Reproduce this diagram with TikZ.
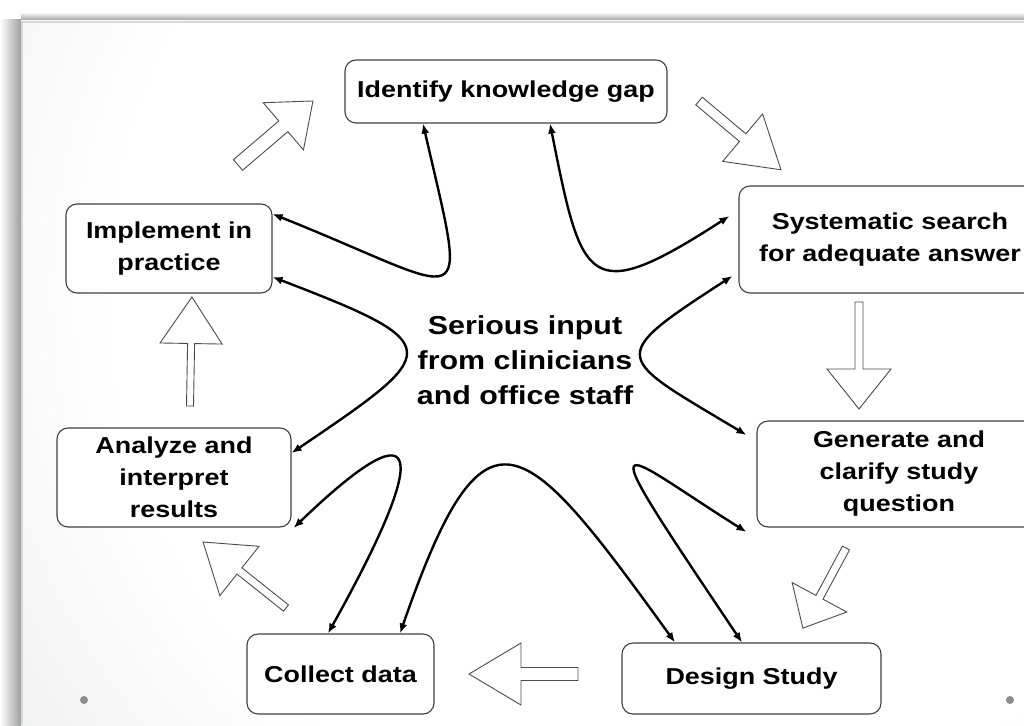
\documentclass[tikz,border=0pt]{standalone}
\usepackage{fontspec}
\setmainfont{Liberation Sans}
\newfontfamily\slidefont{Liberation Sans}[FakeStretch=1.17]
\usetikzlibrary{arrows.meta}
\pgfdeclareradialshading{slideshade}{\pgfpoint{0bp}{0bp}}{color(0bp)=(white); color(17bp)=(white); color(38bp)=(black!15); color(50bp)=(black!20)}

\newcommand{\blockarrow}[6]{%
  \begin{scope}[shift={(#1)}, rotate=#2]
    \draw[hollow] (0,-#4) -- (#3-#6,-#4) -- (#3-#6,-#5) -- (#3,0) -- (#3-#6,#5) -- (#3-#6,#4) -- (0,#4) -- cycle;
  \end{scope}}

\begin{document}
\begin{tikzpicture}[x=1pt, y=-1pt, >={Latex[length=10pt,width=8pt]},
  box/.style={draw=black!75, line width=1.1pt, fill=white, rounded corners=11pt, align=center, inner sep=0pt,
    font=\slidefont\bfseries\fontsize{23}{32}\selectfont},
  link/.style={<->, line width=2.4pt},
  hollow/.style={draw=black!70, fill=white, line width=0.9pt, line join=miter}]
\useasboundingbox (0,0) rectangle (1024,725);
\fill[white] (0,0) rectangle (1024,725);
\shade[left color=white, right color=black!38] (0,20) rectangle (21,725);
\shade[top color=white, bottom color=black!40] (21,12) rectangle (1024,21);
\begin{scope}
\clip (21,21) rectangle (1024,725);
\shade[shading=slideshade] (660,290) circle (800);
\end{scope}
\draw[cyan!25!black!20, line width=2pt] (22,725) -- (22,22) -- (1024,22);
\fill[black!45] (84,700) circle (4);
\fill[black!45] (1010,700) circle (4);

\node[box, minimum width=322pt, minimum height=63pt] (ident) at (506,91.5) {Identify knowledge gap};
\node[box, minimum width=302pt, minimum height=107pt] (search) at (890,239.5) {Systematic search\\for adequate answer};
\node[box, minimum width=284pt, minimum height=106pt] (gen) at (899,474) {Generate and\\clarify study\\question};
\node[box, minimum width=259pt, minimum height=71pt] (design) at (751.5,678.5) {Design Study};
\node[box, minimum width=187pt, minimum height=80pt] (collect) at (340.5,674) {Collect data};
\node[box, minimum width=234pt, minimum height=99pt] (analyze) at (174,477.5) {Analyze and\\interpret\\results};
\node[box, minimum width=206pt, minimum height=89pt] (impl) at (169,248.5) {Implement in\\practice};
\node[align=center, font=\slidefont\bfseries\fontsize{26}{35}\selectfont] (core) at (525,360) {Serious input\\from clinicians\\and office staff};

\blockarrow{238,165}{40.5}{98.6}{7}{31}{39}
\blockarrow{699,101}{-40}{107}{5}{31}{50}
\blockarrow{859,302}{-90}{107}{4}{32}{40}
\blockarrow{846,548}{-118.3}{91}{4}{31}{35}
\blockarrow{578,674}{180}{109}{6.5}{31}{52}
\blockarrow{286,608}{141.5}{106}{4}{31.5}{46.5}
\blockarrow{190,406}{89}{109}{3.5}{31}{46.5}

\draw[link] ([yshift=34.5pt]impl.east) .. controls (473,294) and (469,324) .. ([xshift=-83pt]ident.south);
\draw[link] ([xshift=44pt]ident.south) .. controls (582,284) and (587,308) .. ([xshift=-9pt,yshift=23.5pt]search.west);
\draw[link] ([xshift=-6pt,yshift=-36.5pt]search.west) .. controls (604,359) and (615,356) .. ([xshift=-10pt,yshift=39pt]gen.west);
\draw[link] ([xshift=-10pt,yshift=-58pt]gen.west) .. controls (613,448) and (585,409) .. ([xshift=-9.5pt]design.north);
\draw[link] ([xshift=59.5pt]collect.north) .. controls (485,389) and (522,431) .. ([xshift=-76.5pt]design.north);
\draw[link] ([xshift=2pt,yshift=-50.5pt]analyze.east) .. controls (415,411) and (439,434.5) .. ([xshift=-12.5pt]collect.north);
\draw[link] ([yshift=-28.5pt]impl.east) .. controls (450,345) and (442,351) .. ([yshift=24.5pt]analyze.east);
\end{tikzpicture}
\end{document}
